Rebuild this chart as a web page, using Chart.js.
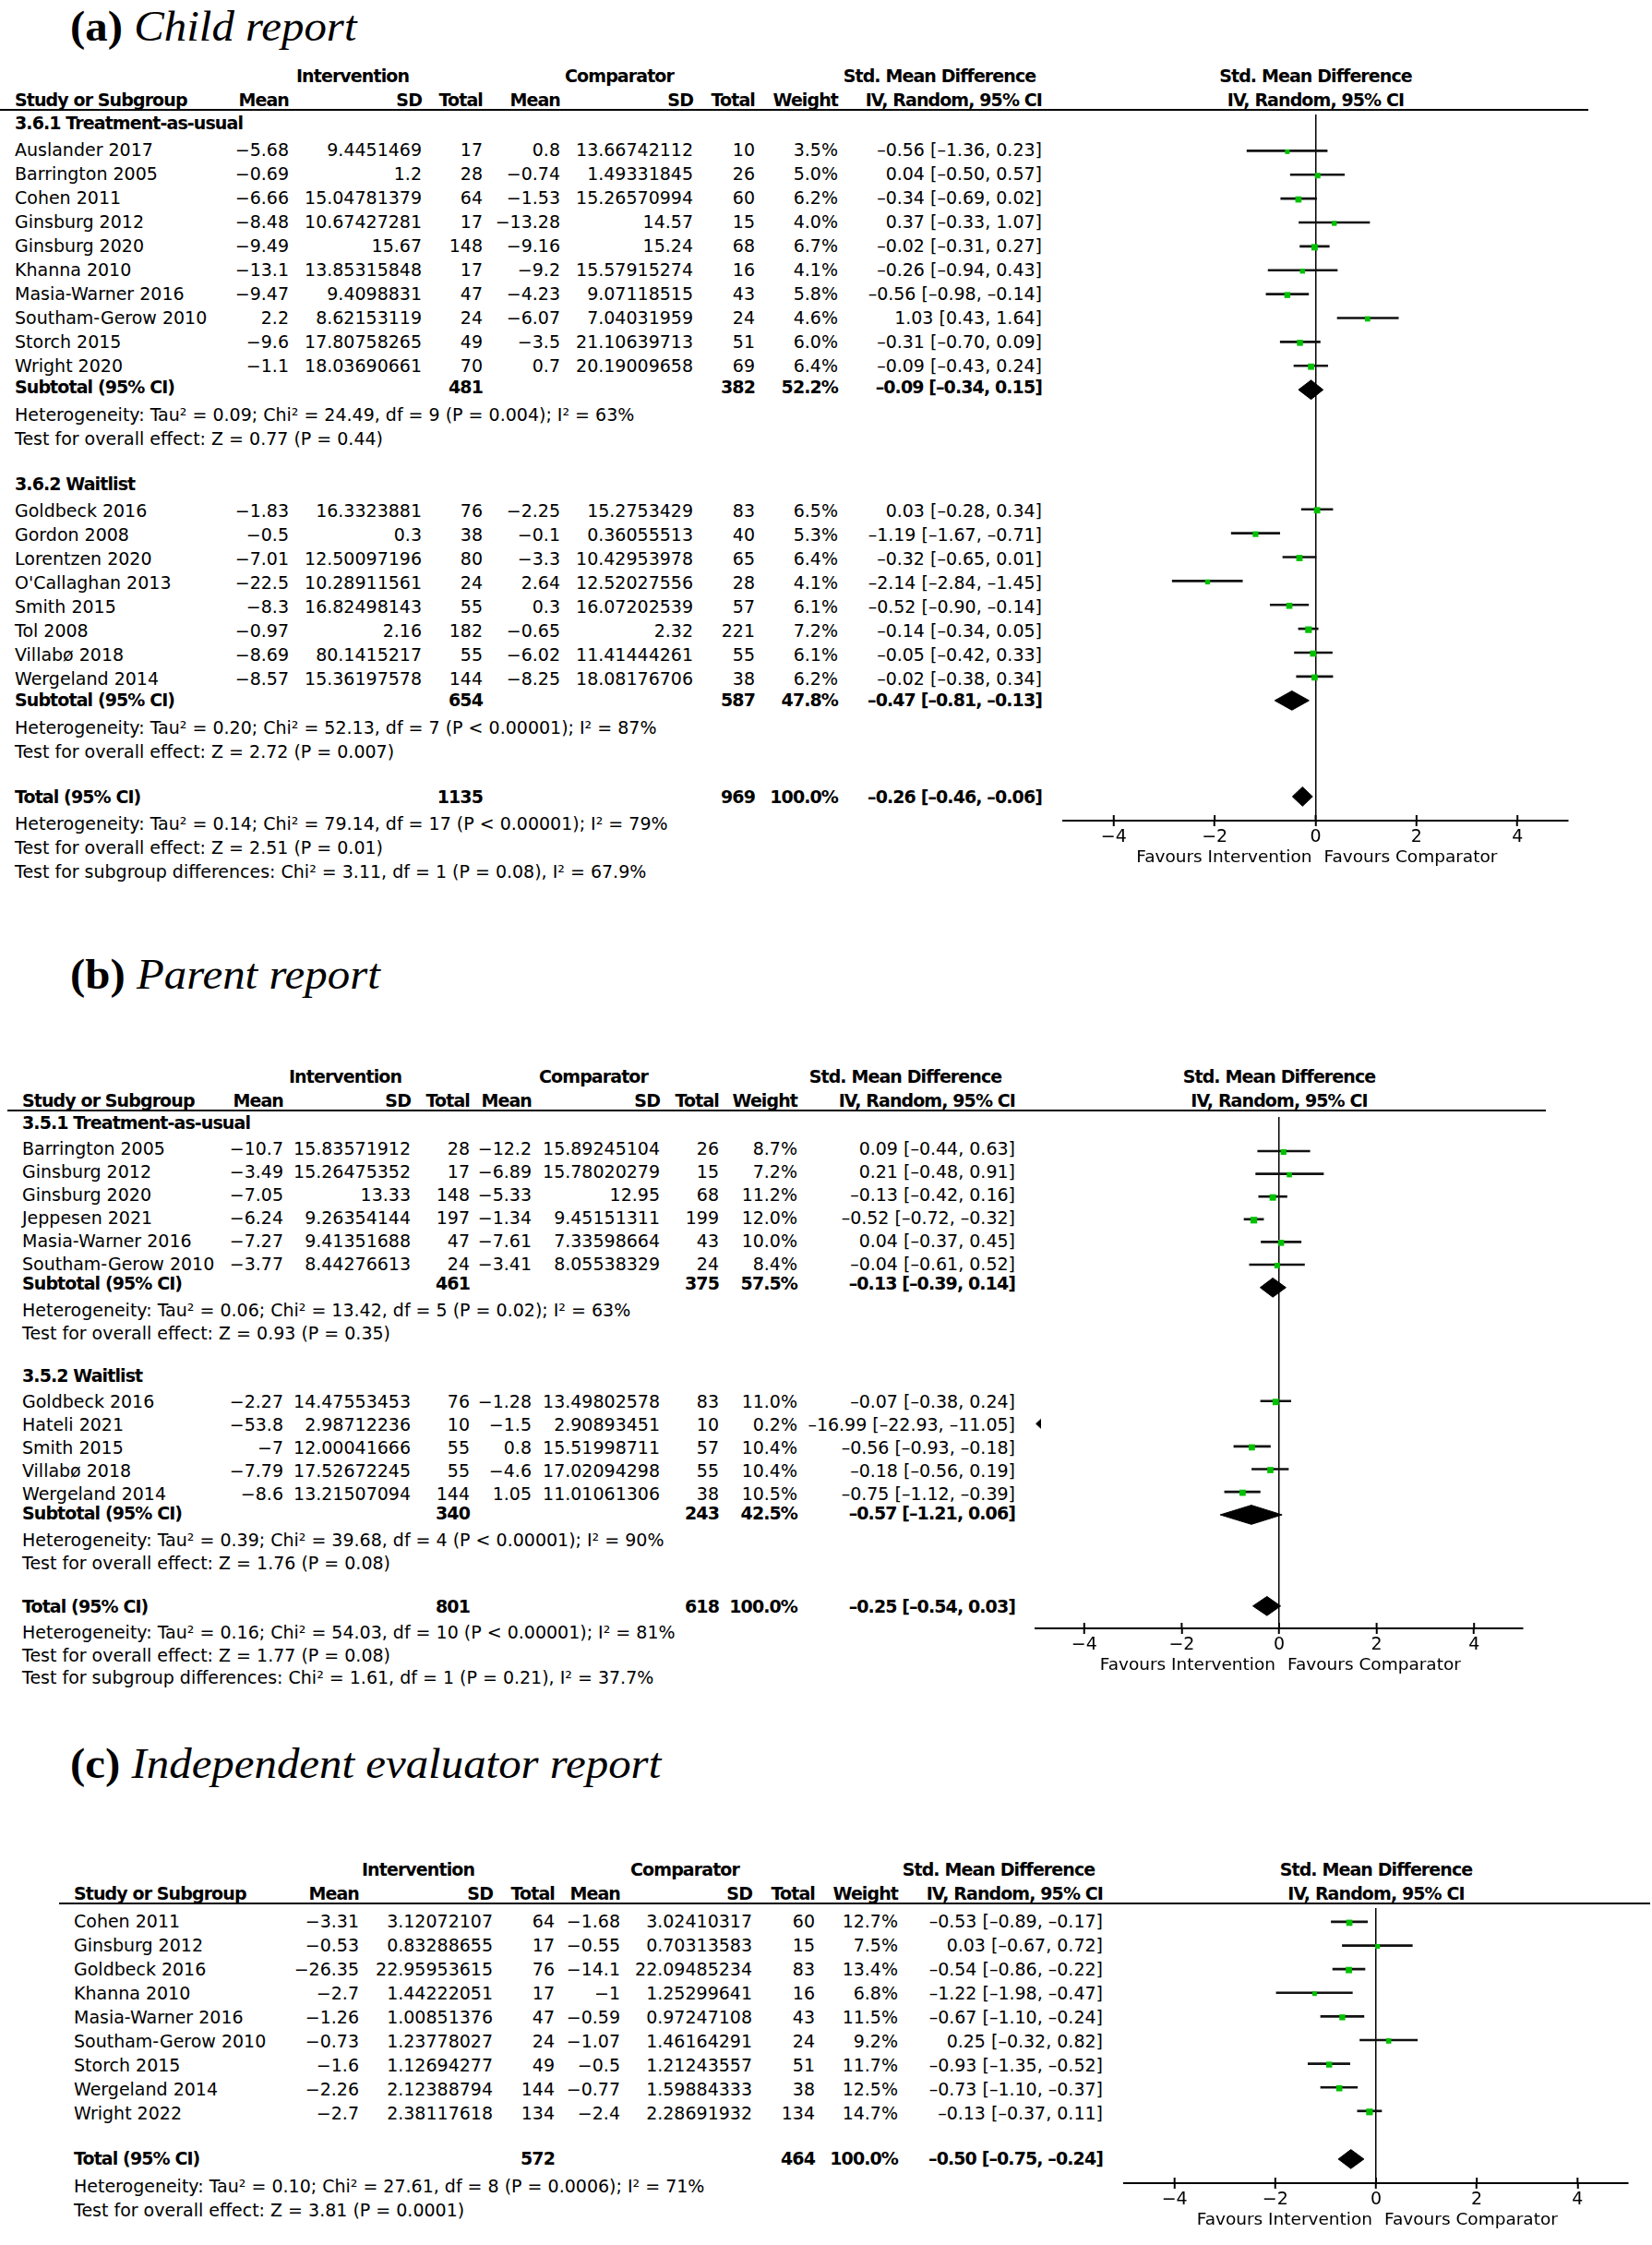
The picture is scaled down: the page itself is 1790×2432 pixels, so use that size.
<!DOCTYPE html>
<html>
<head>
<meta charset="utf-8">
<script src="https://cdn.jsdelivr.net/npm/chart.js@4.4.1/dist/chart.umd.min.js"></script>
<style>
  body { margin: 0; background: #fff; }
  #page { position: relative; width: 1790px; height: 2432px; overflow: hidden;
          font-family: "DejaVu Sans", sans-serif; font-size: 19px; color: #000; }
  .t { position: absolute; white-space: nowrap; line-height: 24px; height: 24px; }
  .b { font-weight: bold; letter-spacing: -0.9px; }
  .fav { font-size: 18.5px; }
  .title { position: absolute; white-space: nowrap; font-family: "Liberation Serif", serif;
           font-size: 47px; line-height: 50px; transform: scaleX(1.04); transform-origin: left center; }
  .hline { position: absolute; height: 2px; background: #000; }
  .plot { position: absolute; }
</style>
</head>
<body>
<div id="page"></div>
<script>
// ---------- (a) Child report ----------
const childGroups = ['3.6.1 Treatment-as-usual', '3.6.2 Waitlist'];
const childGroupOf = [0, 0, 0, 0, 0, 0, 0, 0, 0, 0, 1, 1, 1, 1, 1, 1, 1, 1];
const childStudy = ['Auslander 2017', 'Barrington 2005', 'Cohen 2011', 'Ginsburg 2012', 'Ginsburg 2020',
  'Khanna 2010', 'Masia-Warner 2016', 'Southam-Gerow 2010', 'Storch 2015', 'Wright 2020',
  'Goldbeck 2016', 'Gordon 2008', 'Lorentzen 2020', "O'Callaghan 2013", 'Smith 2015', 'Tol 2008',
  'Villabø 2018', 'Wergeland 2014'];
const childIntMean = [-5.68, -0.69, -6.66, -8.48, -9.49, -13.1, -9.47, 2.2, -9.6, -1.1,
  -1.83, -0.5, -7.01, -22.5, -8.3, -0.97, -8.69, -8.57];
const childIntSD = [9.4451469, 1.2, 15.04781379, 10.67427281, 15.67, 13.85315848, 9.4098831, 8.62153119,
  17.80758265, 18.03690661, 16.3323881, 0.3, 12.50097196, 10.28911561, 16.82498143, 2.16, 80.1415217, 15.36197578];
const childIntN = [17, 28, 64, 17, 148, 17, 47, 24, 49, 70, 76, 38, 80, 24, 55, 182, 55, 144];
const childCompMean = [0.8, -0.74, -1.53, -13.28, -9.16, -9.2, -4.23, -6.07, -3.5, 0.7,
  -2.25, -0.1, -3.3, 2.64, 0.3, -0.65, -6.02, -8.25];
const childCompSD = [13.66742112, 1.49331845, 15.26570994, 14.57, 15.24, 15.57915274, 9.07118515, 7.04031959,
  21.10639713, 20.19009658, 15.2753429, 0.36055513, 10.42953978, 12.52027556, 16.07202539, 2.32, 11.41444261, 18.08176706];
const childCompN = [10, 26, 60, 15, 68, 16, 43, 24, 51, 69, 83, 40, 65, 28, 57, 221, 55, 38];
const childWeight = [3.5, 5.0, 6.2, 4.0, 6.7, 4.1, 5.8, 4.6, 6.0, 6.4, 6.5, 5.3, 6.4, 4.1, 6.1, 7.2, 6.1, 6.2];
const childSMD = [-0.56, 0.04, -0.34, 0.37, -0.02, -0.26, -0.56, 1.03, -0.31, -0.09,
  0.03, -1.19, -0.32, -2.14, -0.52, -0.14, -0.05, -0.02];
const childLo = [-1.36, -0.50, -0.69, -0.33, -0.31, -0.94, -0.98, 0.43, -0.70, -0.43,
  -0.28, -1.67, -0.65, -2.84, -0.90, -0.34, -0.42, -0.38];
const childHi = [0.23, 0.57, 0.02, 1.07, 0.27, 0.43, -0.14, 1.64, 0.09, 0.24,
  0.34, -0.71, 0.01, -1.45, -0.14, 0.05, 0.33, 0.34];
const childSubN = [[481, 382], [654, 587]];
const childSubWeight = [52.2, 47.8];
const childSubCI = [[-0.09, -0.34, 0.15], [-0.47, -0.81, -0.13]];
const childSubNotes = [
  ['Heterogeneity: Tau² = 0.09; Chi² = 24.49, df = 9 (P = 0.004); I² = 63%', 'Test for overall effect: Z = 0.77 (P = 0.44)'],
  ['Heterogeneity: Tau² = 0.20; Chi² = 52.13, df = 7 (P < 0.00001); I² = 87%', 'Test for overall effect: Z = 2.72 (P = 0.007)']];
const childTotalN = [1135, 969];
const childTotalCI = [-0.26, -0.46, -0.06];
const childTotalNotes = ['Heterogeneity: Tau² = 0.14; Chi² = 79.14, df = 17 (P < 0.00001); I² = 79%',
  'Test for overall effect: Z = 2.51 (P = 0.01)',
  'Test for subgroup differences: Chi² = 3.11, df = 1 (P = 0.08), I² = 67.9%'];

// ---------- (b) Parent report ----------
const parentGroups = ['3.5.1 Treatment-as-usual', '3.5.2 Waitlist'];
const parentGroupOf = [0, 0, 0, 0, 0, 0, 1, 1, 1, 1, 1];
const parentStudy = ['Barrington 2005', 'Ginsburg 2012', 'Ginsburg 2020', 'Jeppesen 2021', 'Masia-Warner 2016',
  'Southam-Gerow 2010', 'Goldbeck 2016', 'Hateli 2021', 'Smith 2015', 'Villabø 2018', 'Wergeland 2014'];
const parentIntMean = [-10.7, -3.49, -7.05, -6.24, -7.27, -3.77, -2.27, -53.8, -7, -7.79, -8.6];
const parentIntSD = [15.83571912, 15.26475352, 13.33, 9.26354144, 9.41351688, 8.44276613,
  14.47553453, 2.98712236, 12.00041666, 17.52672245, 13.21507094];
const parentIntN = [28, 17, 148, 197, 47, 24, 76, 10, 55, 55, 144];
const parentCompMean = [-12.2, -6.89, -5.33, -1.34, -7.61, -3.41, -1.28, -1.5, 0.8, -4.6, 1.05];
const parentCompSD = [15.89245104, 15.78020279, 12.95, 9.45151311, 7.33598664, 8.05538329,
  13.49802578, 2.90893451, 15.51998711, 17.02094298, 11.01061306];
const parentCompN = [26, 15, 68, 199, 43, 24, 83, 10, 57, 55, 38];
const parentWeight = [8.7, 7.2, 11.2, 12.0, 10.0, 8.4, 11.0, 0.2, 10.4, 10.4, 10.5];
const parentSMD = [0.09, 0.21, -0.13, -0.52, 0.04, -0.04, -0.07, -16.99, -0.56, -0.18, -0.75];
const parentLo = [-0.44, -0.48, -0.42, -0.72, -0.37, -0.61, -0.38, -22.93, -0.93, -0.56, -1.12];
const parentHi = [0.63, 0.91, 0.16, -0.32, 0.45, 0.52, 0.24, -11.05, -0.18, 0.19, -0.39];
const parentSubN = [[461, 375], [340, 243]];
const parentSubWeight = [57.5, 42.5];
const parentSubCI = [[-0.13, -0.39, 0.14], [-0.57, -1.21, 0.06]];
const parentSubNotes = [
  ['Heterogeneity: Tau² = 0.06; Chi² = 13.42, df = 5 (P = 0.02); I² = 63%', 'Test for overall effect: Z = 0.93 (P = 0.35)'],
  ['Heterogeneity: Tau² = 0.39; Chi² = 39.68, df = 4 (P < 0.00001); I² = 90%', 'Test for overall effect: Z = 1.76 (P = 0.08)']];
const parentTotalN = [801, 618];
const parentTotalCI = [-0.25, -0.54, 0.03];
const parentTotalNotes = ['Heterogeneity: Tau² = 0.16; Chi² = 54.03, df = 10 (P < 0.00001); I² = 81%',
  'Test for overall effect: Z = 1.77 (P = 0.08)',
  'Test for subgroup differences: Chi² = 1.61, df = 1 (P = 0.21), I² = 37.7%'];

// ---------- (c) Independent evaluator report ----------
const evalStudy = ['Cohen 2011', 'Ginsburg 2012', 'Goldbeck 2016', 'Khanna 2010', 'Masia-Warner 2016',
  'Southam-Gerow 2010', 'Storch 2015', 'Wergeland 2014', 'Wright 2022'];
const evalIntMean = [-3.31, -0.53, -26.35, -2.7, -1.26, -0.73, -1.6, -2.26, -2.7];
const evalIntSD = [3.12072107, 0.83288655, 22.95953615, 1.44222051, 1.00851376, 1.23778027, 1.12694277, 2.12388794, 2.38117618];
const evalIntN = [64, 17, 76, 17, 47, 24, 49, 144, 134];
const evalCompMean = [-1.68, -0.55, -14.1, -1, -0.59, -1.07, -0.5, -0.77, -2.4];
const evalCompSD = [3.02410317, 0.70313583, 22.09485234, 1.25299641, 0.97247108, 1.46164291, 1.21243557, 1.59884333, 2.28691932];
const evalCompN = [60, 15, 83, 16, 43, 24, 51, 38, 134];
const evalWeight = [12.7, 7.5, 13.4, 6.8, 11.5, 9.2, 11.7, 12.5, 14.7];
const evalSMD = [-0.53, 0.03, -0.54, -1.22, -0.67, 0.25, -0.93, -0.73, -0.13];
const evalLo = [-0.89, -0.67, -0.86, -1.98, -1.10, -0.32, -1.35, -1.10, -0.37];
const evalHi = [-0.17, 0.72, -0.22, -0.47, -0.24, 0.82, -0.52, -0.37, 0.11];
const evalTotalN = [572, 464];
const evalTotalCI = [-0.50, -0.75, -0.24];
const evalTotalNotes = ['Heterogeneity: Tau² = 0.10; Chi² = 27.61, df = 8 (P = 0.0006); I² = 71%',
  'Test for overall effect: Z = 3.81 (P = 0.0001)'];

// shared axis
const xRange = [-5, 5];
const xTicks = [-4, -2, 0, 2, 4];

const panels = [
  { tag: '(a)', name: 'Child report', titleY: 43, y0: 162, pitch: 26.05, lineY: 119, axisY: 889,
    lineX: [0, 1721], plotX: [1147, 1704],
    cols: { study: 16, intMean: 313, intSD: 457, intN: 523, compMean: 607, compSD: 751, compN: 818,
            weight: 908, ci: 1129, intHead: 382, compHead: 671, smdHead: 1018 },
    groups: childGroups, groupOf: childGroupOf, study: childStudy, intMean: childIntMean, intSD: childIntSD,
    intN: childIntN, compMean: childCompMean, compSD: childCompSD, compN: childCompN, weight: childWeight,
    smd: childSMD, lo: childLo, hi: childHi, subN: childSubN, subWeight: childSubWeight, subCI: childSubCI,
    subNotes: childSubNotes, totalN: childTotalN, totalCI: childTotalCI, totalNotes: childTotalNotes },
  { tag: '(b)', name: 'Parent report', titleY: 1070, y0: 1244, pitch: 24.9, lineY: 1203, axisY: 1764,
    lineX: [8, 1675], plotX: [1115, 1657],
    cols: { study: 24, intMean: 307, intSD: 445, intN: 509, compMean: 576, compSD: 715, compN: 779,
            weight: 864, ci: 1100, intHead: 374, compHead: 643, smdHead: 981 },
    groups: parentGroups, groupOf: parentGroupOf, study: parentStudy, intMean: parentIntMean, intSD: parentIntSD,
    intN: parentIntN, compMean: parentCompMean, compSD: parentCompSD, compN: parentCompN, weight: parentWeight,
    smd: parentSMD, lo: parentLo, hi: parentHi, subN: parentSubN, subWeight: parentSubWeight, subCI: parentSubCI,
    subNotes: parentSubNotes, totalN: parentTotalN, totalCI: parentTotalCI, totalNotes: parentTotalNotes },
  { tag: '(c)', name: 'Independent evaluator report', titleY: 1925, y0: 2080.6, pitch: 26.05, lineY: 2062, axisY: 2365,
    lineX: [64, 1788], plotX: [1213, 1769],
    cols: { study: 80, intMean: 389, intSD: 534, intN: 601, compMean: 672, compSD: 815, compN: 883,
            weight: 973, ci: 1195, intHead: 453, compHead: 742, smdHead: 1082 },
    groups: [], groupOf: [], study: evalStudy, intMean: evalIntMean, intSD: evalIntSD,
    intN: evalIntN, compMean: evalCompMean, compSD: evalCompSD, compN: evalCompN, weight: evalWeight,
    smd: evalSMD, lo: evalLo, hi: evalHi, subN: [], subWeight: [], subCI: [],
    subNotes: [], totalN: evalTotalN, totalCI: evalTotalCI, totalNotes: evalTotalNotes }
];

const page = document.getElementById('page');
const num = v => String(v).replace('-', '\u2212');
const f2 = v => v.toFixed(2).replace('-', '\u2013');
const ciText = (e, l, h) => `${f2(e)} [${f2(l)}, ${f2(h)}]`;

function put(text, x, y, align, cls) {
  const d = document.createElement('div');
  d.className = 't' + (cls ? ' ' + cls : '');
  d.textContent = text;
  if (align === 'r') { d.style.left = (x - 700) + 'px'; d.style.width = '700px'; d.style.textAlign = 'right'; }
  else if (align === 'c') { d.style.left = (x - 350) + 'px'; d.style.width = '700px'; d.style.textAlign = 'center'; }
  else d.style.left = x + 'px';
  d.style.top = (y - 12) + 'px';
  page.appendChild(d);
}

// small left-pointing arrow for off-scale estimates
const arrowImg = document.createElement('canvas');
arrowImg.width = 12; arrowImg.height = 12;
(() => {
  const g = arrowImg.getContext('2d');
  g.fillStyle = '#000';
  g.beginPath(); g.moveTo(6, 6); g.lineTo(12, 0.5); g.lineTo(12, 11.5); g.closePath(); g.fill();
})();

const tickUp = {
  id: 'tickUp',
  afterDraw(chart) {
    const s = chart.scales.x, ctx = chart.ctx;
    ctx.save();
    ctx.strokeStyle = '#000';
    ctx.lineWidth = 2;
    s.ticks.forEach(t => {
      const x = s.getPixelForValue(t.value);
      ctx.beginPath(); ctx.moveTo(x, s.top - 6); ctx.lineTo(x, s.top); ctx.stroke();
    });
    ctx.restore();
  }
};

function buildPanel(p) {
  const c = p.cols;
  const Y = s => p.y0 + s * p.pitch;
  const plotMid = (p.plotX[0] + p.plotX[1]) / 2;

  // title
  const t = document.createElement('div');
  t.className = 'title';
  t.style.left = '76px';
  t.style.top = (p.titleY - 40) + 'px';
  t.innerHTML = '<b>' + p.tag + '</b> <i>' + p.name + '</i>';
  page.appendChild(t);

  // header
  const h1 = p.lineY - 37, h2 = p.lineY - 11;
  put('Intervention', c.intHead, h1, 'c', 'b');
  put('Comparator', c.compHead, h1, 'c', 'b');
  put('Std. Mean Difference', c.smdHead, h1, 'c', 'b');
  put('Std. Mean Difference', plotMid, h1, 'c', 'b');
  put('Study or Subgroup', c.study, h2, 'l', 'b');
  put('Mean', c.intMean, h2, 'r', 'b');
  put('SD', c.intSD, h2, 'r', 'b');
  put('Total', c.intN, h2, 'r', 'b');
  put('Mean', c.compMean, h2, 'r', 'b');
  put('SD', c.compSD, h2, 'r', 'b');
  put('Total', c.compN, h2, 'r', 'b');
  put('Weight', c.weight, h2, 'r', 'b');
  put('IV, Random, 95% CI', c.ci, h2, 'r', 'b');
  put('IV, Random, 95% CI', plotMid, h2, 'c', 'b');
  const ln = document.createElement('div');
  ln.className = 'hline';
  ln.style.left = p.lineX[0] + 'px';
  ln.style.width = (p.lineX[1] - p.lineX[0]) + 'px';
  ln.style.top = (p.lineY - 1) + 'px';
  page.appendChild(ln);

  // row layout (slot units)
  const rows = [];
  const named = p.groups.length > 0;
  let s = named ? -1.12 : 0;
  const nGroups = named ? p.groups.length : 1;
  for (let g = 0; g < nGroups; g++) {
    if (named) { rows.push({ kind: 'group', slot: s, g }); s += 1.12; }
    p.study.forEach((_, i) => {
      if (!named || p.groupOf[i] === g) { rows.push({ kind: 'study', slot: s, i }); s += 1; }
    });
    if (named) {
      s -= 0.13; rows.push({ kind: 'sub', slot: s, g }); s += 1.15;
      rows.push({ kind: 'note', slot: s, text: p.subNotes[g][0] }); s += 1;
      rows.push({ kind: 'note', slot: s, text: p.subNotes[g][1] }); s += 1.87;
    } else {
      s += 0.9;
    }
  }
  rows.push({ kind: 'total', slot: s }); s += 1.13;
  p.totalNotes.forEach(txt => { rows.push({ kind: 'note', slot: s, text: txt }); s += 1; });

  rows.forEach(r => {
    const y = Y(r.slot);
    if (r.kind === 'group') put(p.groups[r.g], c.study, y, 'l', 'b');
    else if (r.kind === 'note') put(r.text, c.study, y, 'l');
    else if (r.kind === 'study') {
      const i = r.i;
      put(p.study[i], c.study, y, 'l');
      put(num(p.intMean[i]), c.intMean, y, 'r');
      put(num(p.intSD[i]), c.intSD, y, 'r');
      put(String(p.intN[i]), c.intN, y, 'r');
      put(num(p.compMean[i]), c.compMean, y, 'r');
      put(num(p.compSD[i]), c.compSD, y, 'r');
      put(String(p.compN[i]), c.compN, y, 'r');
      put(p.weight[i].toFixed(1) + '%', c.weight, y, 'r');
      put(ciText(p.smd[i], p.lo[i], p.hi[i]), c.ci, y, 'r');
    } else {
      const isSub = r.kind === 'sub';
      const n = isSub ? p.subN[r.g] : p.totalN;
      const w = isSub ? p.subWeight[r.g] : 100;
      const e = isSub ? p.subCI[r.g] : p.totalCI;
      put(isSub ? 'Subtotal (95% CI)' : 'Total (95% CI)', c.study, y, 'l', 'b');
      put(String(n[0]), c.intN, y, 'r', 'b');
      put(String(n[1]), c.compN, y, 'r', 'b');
      put(w.toFixed(1) + '%', c.weight, y, 'r', 'b');
      put(ciText(e[0], e[1], e[2]), c.ci, y, 'r', 'b');
    }
  });

  // forest plot
  const AXH = 36;
  const wrap = document.createElement('div');
  wrap.className = 'plot';
  const W = p.plotX[1] - p.plotX[0];
  const H = p.axisY - p.lineY + AXH;
  wrap.style.left = p.plotX[0] + 'px';
  wrap.style.top = p.lineY + 'px';
  wrap.style.width = W + 'px';
  wrap.style.height = H + 'px';
  const cv = document.createElement('canvas');
  cv.width = W; cv.height = H;
  cv.style.width = W + 'px'; cv.style.height = H + 'px';
  wrap.appendChild(cv);
  page.appendChild(wrap);

  const lineShift = -3.5 / p.pitch, boxShift = -2.5 / p.pitch, half = 10.5 / p.pitch;
  const studyRows = rows.filter(r => r.kind === 'study');
  const maxW = Math.max(...studyRows.map(r => p.weight[r.i]));
  const boxSide = studyRows.map(r => Math.max(3, 7.2 * Math.sqrt(p.weight[r.i] / maxW)));

  const datasets = [
    { type: 'bar', indexAxis: 'y', order: 3,
      data: studyRows.map(r => ({ x: [p.lo[r.i], p.hi[r.i]], y: r.slot + lineShift })),
      backgroundColor: '#111', borderWidth: 0, barThickness: 2 },
    { type: 'scatter', order: 1,
      data: studyRows.map(r => ({ x: p.smd[r.i], y: r.slot + boxShift })),
      pointStyle: 'rect', pointRadius: boxSide.map(v => v / Math.SQRT2),
      backgroundColor: '#00c000', borderWidth: 0 },
    { type: 'scatter', order: 0, clip: false,
      data: studyRows.filter(r => p.hi[r.i] < xRange[0]).map(r => ({ x: xRange[0], y: r.slot + lineShift })),
      pointStyle: arrowImg, pointRadius: 6 }
  ];
  rows.filter(r => r.kind === 'sub' || r.kind === 'total').forEach(r => {
    const e = r.kind === 'sub' ? p.subCI[r.g] : p.totalCI;
    datasets.push({
      type: 'line', order: 2,
      data: [{ x: e[1], y: r.slot }, { x: e[0], y: r.slot - half }, { x: e[2], y: r.slot },
             { x: e[0], y: r.slot + half }, { x: e[1], y: r.slot }],
      borderColor: '#000', backgroundColor: '#000', borderWidth: 1,
      pointRadius: 0, tension: 0, fill: 'shape'
    });
  });

  new Chart(cv, {
    type: 'scatter',
    data: { datasets },
    options: {
      responsive: false, animation: false, events: [],
      layout: { padding: 0 },
      plugins: { legend: { display: false }, tooltip: { enabled: false } },
      scales: {
        x: {
          type: 'linear', min: xRange[0], max: xRange[1], offset: false,
          afterBuildTicks: sc => { sc.ticks = xTicks.map(v => ({ value: v })); },
          afterFit: sc => { sc.height = AXH; },
          grid: {
            offset: false,
            color: ctx => (ctx.tick && ctx.tick.value === 0) ? '#000' : 'rgba(0,0,0,0)',
            lineWidth: 1.5, drawTicks: true, tickLength: 6, tickColor: '#000', tickWidth: 2
          },
          border: { display: true, color: '#000', width: 2 },
          ticks: { color: '#000', padding: 1, maxRotation: 0,
                   font: { family: 'DejaVu Sans', size: 19 }, callback: v => num(v) }
        },
        y: { type: 'linear', display: false, reverse: true, offset: false, grid: { offset: false },
             min: (p.lineY - p.y0) / p.pitch, max: (p.axisY - p.y0) / p.pitch }
      }
    },
    plugins: [tickUp]
  });

  // favours labels either side of the zero line
  const zeroX = p.plotX[0] + (0 - xRange[0]) / (xRange[1] - xRange[0]) * W;
  put('Favours Intervention', zeroX - 4, p.axisY + 39, 'r', 'fav');
  put('Favours Comparator', zeroX + 9, p.axisY + 39, 'l', 'fav');
}

panels.forEach(buildPanel);
</script>
</body>
</html>
